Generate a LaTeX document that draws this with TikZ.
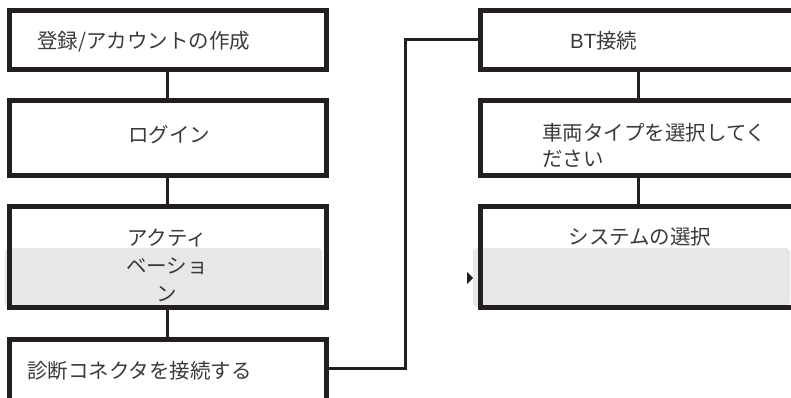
\documentclass[tikz,border=0pt]{standalone}
\usepackage{fontspec}
\newfontfamily\jpfont{Noto Sans CJK JP}
\newfontfamily\latfont{Liberation Sans}
\definecolor{ink}{HTML}{231F20}
\definecolor{txt}{HTML}{3A3A3A}
\definecolor{panel}{HTML}{E6E7E8}
\begin{document}
\begin{tikzpicture}[x=1pt,y=-1pt,
  box/.style={draw=ink, line width=5pt, rectangle, minimum width=316.5pt, outer sep=0pt, inner sep=0pt},
  lbl/.style={text=txt, font=\jpfont\fontsize{20.5}{28}\selectfont, inner sep=0pt},
  link/.style={draw=ink, line width=3pt}]
\useasboundingbox (0,0) rectangle (791,398);
\clip (0,0) rectangle (791,398);
% grey panels
\fill[panel, rounded corners=4pt] (4.5,248) rectangle (322,307);
\fill[panel, rounded corners=4pt] (473,248) rectangle (790,307);
% left column
\node[box, minimum height=59pt]  (b1) at (167.75,40) {};
\node[box, minimum height=75pt]  (b2) at (167.75,138) {};
\node[box, minimum height=101pt] (b3) at (167.75,257) {};
\node[box, minimum height=61.5pt] (b4) at (167.75,370.25) {};
% right column
\node[box, minimum height=59pt]  (r1) at (638.25,40) {};
\node[box, minimum height=75pt]  (r2) at (638.25,138) {};
\node[box, minimum height=101pt] (r3) at (638.25,257) {};
% texts
\node[lbl, anchor=west] (t1) at (37,42) {登録/アカウントの作成};
\node[lbl] (t2) at (169,135) {ログイン};
\node[lbl, align=center] (t3) at (167,265) {アクティ\\ベーショ\\ン};
\node[lbl, anchor=west] (t4) at (27,371) {診断コネクタを接続する};
\node[lbl, anchor=west] (u1) at (570,41) {{\latfont BT}接続};
\node[lbl, anchor=west, align=left, font=\jpfont\fontsize{20.5}{26}\selectfont] (u2) at (542,145) {車両タイプを選択してく\\ださい};
\node[lbl] (u3) at (640,237) {システムの選択};
% small marker
\fill[ink] (467,272) -- (473,278) -- (467,284) -- cycle;
% connectors
\draw[link] (b1.south) -- (b2.north);
\draw[link] (b2.south) -- (b3.north);
\draw[link] (b3.south) -- (b4.north);
\draw[link] (r1.south) -- (r2.north);
\draw[link] (r2.south) -- (r3.north);
\draw[link] ([yshift=2pt]b4.east) -- ++(79,0) |- (r1.west);
\end{tikzpicture}
\end{document}
